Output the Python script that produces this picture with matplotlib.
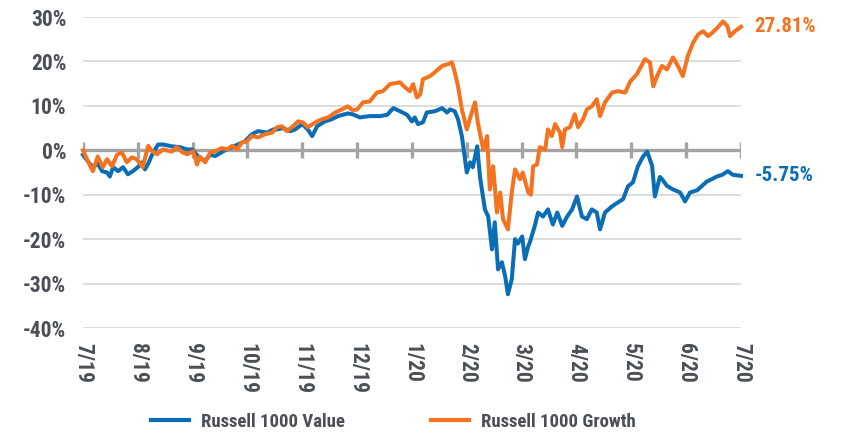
import os
import matplotlib
matplotlib.use("Agg")
import matplotlib.pyplot as plt
import numpy as np
from matplotlib import font_manager

# month labels (x axis is in months since 7/19)
month_labels = ["7/19", "8/19", "9/19", "10/19", "11/19", "12/19", "1/20",
                "2/20", "3/20", "4/20", "5/20", "6/20", "7/20"]

# Russell 1000 Growth, cumulative return (%)
growth_x = [0.00, 0.09, 0.18, 0.27, 0.36, 0.44, 0.53, 0.62, 0.71, 0.80, 0.89, 0.98,
            1.09, 1.19, 1.26, 1.35, 1.46, 1.62, 1.71, 1.81, 1.90, 2.01, 2.08, 2.13,
            2.23, 2.32, 2.41, 2.53, 2.63, 2.72, 2.81, 2.90, 2.99, 3.08, 3.19, 3.32,
            3.45, 3.54, 3.63, 3.72, 3.83, 3.92, 4.01, 4.10, 4.19, 4.27, 4.36, 4.47,
            4.60, 4.72, 4.83, 4.92, 5.00, 5.11, 5.23, 5.36, 5.47, 5.60, 5.78, 5.87,
            5.96, 6.02, 6.09, 6.15, 6.20, 6.33, 6.42, 6.55, 6.66, 6.73, 6.78, 6.84,
            6.91, 7.00, 7.09, 7.15, 7.20, 7.30, 7.37, 7.42, 7.48, 7.55, 7.61, 7.66,
            7.75, 7.82, 7.88, 7.97, 8.02, 8.12, 8.17, 8.21, 8.28, 8.33, 8.43, 8.48,
            8.55, 8.61, 8.70, 8.74, 8.79, 8.88, 8.97, 9.03, 9.12, 9.19, 9.28, 9.37,
            9.43, 9.52, 9.65, 9.76, 9.89, 9.98, 10.10, 10.16, 10.25, 10.34, 10.40,
            10.47, 10.56, 10.65, 10.76, 10.85, 10.94, 11.03, 11.13, 11.22, 11.31,
            11.40, 11.49, 11.58, 11.67, 11.75, 11.80, 11.89, 12.00]
growth_y = [0.0, -2.5, -4.7, -1.4, -3.8, -2.0, -3.6, -1.0, -0.5, -2.7, -1.6, -2.0,
            -3.8, 1.0, -0.2, -0.9, 0.2, -0.3, 0.7, -0.4, -0.9, -0.2, -3.2, -1.4,
            -2.7, -0.5, -0.2, 0.5, 0.2, 1.0, 0.2, 1.8, 2.0, 3.2, 2.9, 3.6,
            4.0, 5.2, 5.4, 4.3, 5.4, 6.5, 6.3, 5.2, 5.9, 6.5, 7.0, 7.4,
            8.5, 9.2, 9.9, 9.0, 9.2, 10.8, 11.0, 13.0, 13.3, 14.9, 15.3, 14.2,
            13.3, 14.9, 11.9, 12.6, 16.0, 16.7, 17.6, 19.0, 19.4, 19.8, 17.6, 14.4,
            9.2, 4.7, 8.5, 10.8, 6.3, 0.2, 3.2, -8.8, -3.6, -14.0, -9.5, -15.5,
            -17.8, -9.5, -4.3, -6.5, -5.0, -9.5, -10.0, -3.6, -3.2, 0.7, 0.2, 4.7,
            3.2, 5.9, 4.0, 0.7, 4.7, 5.2, 8.1, 5.2, 7.0, 9.2, 9.9, 11.5,
            7.7, 10.8, 13.0, 13.3, 13.0, 15.5, 17.1, 18.5, 20.5, 19.8, 14.4,
            16.7, 19.0, 18.2, 20.9, 19.0, 16.7, 21.2, 24.3, 26.1, 26.8,
            25.7, 26.6, 27.7, 29.0, 28.0, 25.7, 26.8, 27.81]

# Russell 1000 Value, cumulative return (%)
value_x = [0.00, 0.09, 0.18, 0.27, 0.35, 0.44, 0.49, 0.55, 0.64, 0.73, 0.82, 0.91,
           1.00, 1.08, 1.13, 1.19, 1.26, 1.37, 1.46, 1.62, 1.77, 1.90, 1.99, 2.04,
           2.13, 2.23, 2.32, 2.41, 2.59, 2.77, 2.95, 3.08, 3.19, 3.36, 3.47, 3.54,
           3.65, 3.78, 3.87, 4.00, 4.10, 4.18, 4.27, 4.41, 4.54, 4.65, 4.83, 4.92,
           5.05, 5.23, 5.42, 5.55, 5.66, 5.78, 5.91, 6.00, 6.05, 6.11, 6.20, 6.27,
           6.42, 6.55, 6.64, 6.69, 6.78, 6.84, 6.91, 7.00, 7.06, 7.11, 7.19, 7.24,
           7.33, 7.39, 7.46, 7.51, 7.57, 7.64, 7.70, 7.75, 7.82, 7.88, 7.93, 8.01,
           8.06, 8.12, 8.15, 8.24, 8.30, 8.39, 8.48, 8.57, 8.65, 8.74, 8.83, 8.92,
           9.01, 9.10, 9.19, 9.28, 9.37, 9.43, 9.52, 9.65, 9.76, 9.85, 9.94, 10.03,
           10.12, 10.21, 10.29, 10.38, 10.43, 10.52, 10.56, 10.65, 10.76, 10.89,
           10.98, 11.07, 11.20, 11.29, 11.38, 11.47, 11.56, 11.66, 11.76, 11.85, 12.00]
value_y = [-1.0, -2.5, -3.8, -3.0, -4.7, -5.0, -5.9, -3.8, -4.7, -3.8, -5.4, -4.7,
           -3.8, -2.7, -4.3, -3.0, -1.0, 1.3, 1.3, 0.9, 0.7, 0.2, 0.2, -0.5,
           -1.8, -2.3, -1.0, -1.3, 0.0, 1.0, 2.0, 3.6, 4.3, 4.0, 4.7, 4.7,
           5.0, 4.3, 4.7, 5.9, 4.7, 3.2, 5.4, 6.5, 7.0, 7.7, 8.3, 8.1,
           7.4, 7.7, 7.7, 8.0, 9.5, 8.8, 8.0, 6.5, 7.4, 5.9, 6.3, 8.5,
           8.8, 9.5, 8.5, 9.2, 8.8, 7.0, 3.2, -5.0, -2.7, -3.8, 0.9, -5.9,
           -13.3, -14.9, -22.3, -16.2, -26.8, -25.2, -28.4, -32.4, -29.0, -20.0, -21.0, -19.4,
           -24.5, -21.6, -20.7, -17.0, -14.0, -14.9, -13.3, -16.7, -14.0, -17.0, -14.9, -13.3,
           -10.4, -14.9, -15.5, -13.3, -14.0, -17.8, -14.0, -12.6, -11.7, -11.0, -8.1, -7.2,
           -3.6, -1.5, -0.3, -3.5, -10.4, -6.0, -6.5, -8.0, -8.8, -9.5,
           -11.5, -9.5, -9.0, -8.0, -7.0, -6.5, -5.9, -5.5, -4.7, -5.5, -5.75]

y_ticks = [-40, -30, -20, -10, 0, 10, 20, 30]

BLUE = "#0b6db5"
ORANGE = "#f47320"
TEXT = "#4a4f55"


def pick_condensed_bold():
    """Look for a narrow bold face among the installed fonts, else None."""
    prefs = ["roboto", "liberation", "noto sans", "open sans", "dejavu"]
    found = []
    for f in font_manager.fontManager.ttflist:
        base = os.path.basename(f.fname).lower()
        narrow = ("condensed" in base or "narrow" in base or "condensed" in f.name.lower()
                  or "narrow" in f.name.lower() or f.stretch in ("condensed", "semi-condensed",
                                                                 "extra-condensed"))
        bold = (isinstance(f.weight, int) and f.weight >= 600) or "bold" in base
        if narrow and bold and "italic" not in base and "oblique" not in base \
                and "semibold" not in base and "extrabold" not in base:
            rank = next((i for i, p in enumerate(prefs) if p in f.name.lower()), len(prefs))
            if "semicondensed" in base or "semi" in str(f.stretch):
                rank += 0.5
            found.append((rank, f.fname))
    if not found:
        return None
    found.sort()
    return font_manager.FontProperties(fname=found[0][1])


def main() -> None:
    narrow = pick_condensed_bold()
    if narrow is None:
        narrow = font_manager.FontProperties(family="DejaVu Sans", weight="bold")

    fig = plt.figure(figsize=(8.51, 4.34), dpi=100)
    ax = fig.add_axes([0.0975, 0.2442, 0.7732, 0.7166])

    months = np.arange(len(month_labels))

    # gridlines and zero axis with month ticks
    for t in y_ticks:
        if t != 0:
            ax.axhline(t, color="#d3d3d3", lw=1.1, zorder=0)
    ax.axhline(0, color="#a3a3a3", lw=2.4, zorder=1)
    ax.vlines(months, -1.8, 1.8, color="#a3a3a3", lw=2.4, zorder=1)

    ax.plot(value_x, value_y, color=BLUE, lw=2.9, label="Russell 1000 Value",
            solid_joinstyle="round", zorder=3, clip_on=False)
    ax.plot(growth_x, growth_y, color=ORANGE, lw=2.9, label="Russell 1000 Growth",
            solid_joinstyle="round", zorder=4, clip_on=False)

    ax.set_xlim(0, 12)
    ax.set_ylim(-40, 30)
    ax.set_yticks(y_ticks)
    ax.set_yticklabels([f"{t}%" for t in y_ticks])
    ax.set_xticks(months)
    ax.set_xticklabels(month_labels, rotation=-90, va="top", ha="center")
    ax.tick_params(length=0, labelcolor=TEXT)
    ax.tick_params(axis="y", pad=12)
    ax.tick_params(axis="x", pad=11)
    for lbl in ax.get_xticklabels() + ax.get_yticklabels():
        lbl.set_fontproperties(narrow)
        lbl.set_fontsize(15.5)
    for s in ax.spines.values():
        s.set_visible(False)

    ax.text(12.25, growth_y[-1], f"{growth_y[-1]:.2f}%", color=ORANGE, fontproperties=narrow,
            fontsize=15, va="center", ha="left", clip_on=False)
    ax.text(12.25, value_y[-1], f"{value_y[-1]:.2f}%", color=BLUE, fontproperties=narrow,
            fontsize=15, va="center", ha="left", clip_on=False)

    leg_font = narrow.copy()
    leg_font.set_size(13.5)
    leg = fig.legend(loc="center", bbox_to_anchor=(0.462, 0.028), ncol=2, frameon=False,
                     prop=leg_font, handlelength=2.05, handletextpad=0.6, columnspacing=4.6)
    for txt in leg.get_texts():
        txt.set_color(TEXT)
    for line in leg.get_lines():
        line.set_linewidth(3)

    fig.savefig("out.png", dpi=100)


if __name__ == "__main__":
    main()
